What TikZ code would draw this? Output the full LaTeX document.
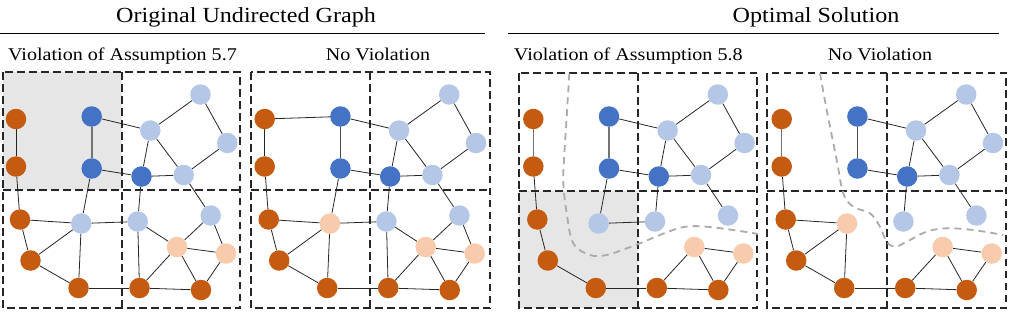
\documentclass[tikz,border=0pt]{standalone}
\usepackage{fontspec}
\setmainfont[FakeStretch=1.12]{Liberation Serif}
\pgfdeclarelayer{back}
\pgfdeclarelayer{bg}
\pgfsetlayers{back,bg,main}
\definecolor{cor}{HTML}{C55A11}
\definecolor{cdb}{HTML}{4472C4}
\definecolor{clb}{HTML}{B4C7E7}
\definecolor{cpe}{HTML}{F8CBAD}
\definecolor{cshade}{HTML}{E6E6E6}
\definecolor{ccurve}{HTML}{ABABAB}
\tikzset{
  gn/.style={circle,minimum size=20.5bp,inner sep=0pt,draw=none},
  ge/.style={draw=black!85,line width=0.8bp},
  gthick/.style={draw=black!55,line width=1.6bp},
  quad/.style={draw=black!85,line width=1.7bp,dash pattern=on 7.5bp off 4.5bp},
  sepcurve/.style={draw=ccurve,line width=1.8bp,dash pattern=on 7bp off 5bp},
  titletext/.style={anchor=base,font=\fontsize{21.6}{24}\selectfont,inner sep=0pt},
  subtext/.style={anchor=base,font=\fontsize{18}{20}\selectfont,inner sep=0pt},
  rule/.style={line width=1.5bp,black}
}
\newcommand\gnodes[2]{%
  \node[gn,fill=cor] (#1o1) at (16,119) {};
  \node[gn,fill=cor] (#1o2) at (16,166.5) {};
  \node[gn,fill=cor] (#1o3) at (20,219.5) {};
  \node[gn,fill=cor] (#1o4) at (30.5,260.5) {};
  \node[gn,fill=cor] (#1o5) at (78.5,288) {};
  \node[gn,fill=cor] (#1o6) at (139.5,288) {};
  \node[gn,fill=cor] (#1o7) at (201,290) {};
  \node[gn,fill=cdb] (#1b1) at (91.7,116.5) {};
  \node[gn,fill=cdb] (#1b2) at (91.7,168.5) {};
  \node[gn,fill=cdb] (#1b3) at (141.5,176.5) {};
  \node[gn,fill=clb] (#1l1) at (200.5,94.5) {};
  \node[gn,fill=clb] (#1l2) at (150.3,130.5) {};
  \node[gn,fill=clb] (#1l3) at (227.3,143) {};
  \node[gn,fill=clb] (#1l4) at (183.7,175) {};
  \node[gn,fill=#2] (#1l5) at (81.3,223.5) {};
  \node[gn,fill=clb] (#1l6) at (137.7,221.5) {};
  \node[gn,fill=clb] (#1l7) at (210.7,215.5) {};
  \node[gn,fill=cpe] (#1p1) at (177,247) {};
  \node[gn,fill=cpe] (#1p2) at (226,253.5) {};
}
\newcommand\quads[5]{% left mid right top midy ; bottom fixed
  \draw[quad] (#1,#4) rectangle (#3,308);
  \draw[quad] (#2,#4) -- (#2,308);
  \draw[quad] (#1,#5) -- (#3,#5);
}
\begin{document}
\begin{tikzpicture}[x=1bp,y=-1bp]
\useasboundingbox (0,0) rectangle (1010,313);
% titles
\node[titletext] (t1) at (246,22.7) {Original Undirected Graph};
\node[titletext] (t2) at (816,22.7) {Optimal Solution};
\draw[rule] (0,33.5) -- (485,33.5);
\draw[rule] (508,33.5) -- (999,33.5);
\node[subtext] (s1) at (122.5,60.7) {Violation of Assumption 5.7};
\node[subtext] (s2) at (378,60.7) {No Violation};
\node[subtext] (s3) at (628.3,60.7) {Violation of Assumption 5.8};
\node[subtext] (s4) at (880,60.7) {No Violation};
% shading
\begin{pgfonlayer}{back}
  \fill[cshade] (3,72) rectangle (122,190);
  \fill[cshade] (519,191) rectangle (638,308);
\end{pgfonlayer}
% nodes
\gnodes{A}{clb}
\begin{scope}[xshift=248.7bp]\gnodes{B}{cpe}\end{scope}
\begin{scope}[xshift=517.3bp]\gnodes{C}{clb}\end{scope}
\begin{scope}[xshift=765.7bp]\gnodes{D}{cpe}\end{scope}
\begin{pgfonlayer}{bg}
  \quads{3}{122}{240}{72}{190}
  \quads{251}{370}{490}{72}{190}
  \quads{519}{638}{757}{73}{191}
  \quads{767}{887}{1006}{73}{191}
  % common edges
  \foreach \P in {A,B,C,D}{
    \foreach \a/\b in {o2/o3,o3/o4,o4/o5,o5/o6,o6/o7,b1/l2,b2/b3,b3/l2,b3/l4,
      l2/l1,l2/l4,l1/l3,l3/l4,l4/l7,b3/l6,p1/p2,p1/o6,p1/o7,p2/o7}
      \draw[ge] (\P\a) -- (\P\b);
  }
  \draw[ge] (Ao1) -- (Ao2);
  \draw[ge] (Bo1) -- (Bo2);
  \draw[gthick,line width=1.2bp] (Co1) -- (Co2);
  \draw[gthick,line width=1.2bp] (Do1) -- (Do2);
  \draw[gthick] (Ab1) -- (Ab2);
  \draw[ge,draw=black!70,line width=1bp] (Bb1) -- (Bb2);
  \draw[gthick] (Cb1) -- (Cb2);
  \draw[ge,draw=black!70,line width=1bp] (Db1) -- (Db2);
  \foreach \P in {A,B}{
    \foreach \a/\b in {o3/l5,l5/o4,l5/o5,l5/l6,l5/b2,l6/o6,l6/p1,l7/p1,l7/p2}
      \draw[ge] (\P\a) -- (\P\b);
  }
  \draw[ge] (Bo1) -- (Bb1);
  \foreach \a/\b in {l5/b2,l5/l6}
    \draw[ge] (C\a) -- (C\b);
  \foreach \a/\b in {o3/l5,l5/o4,l5/o5}
    \draw[ge] (D\a) -- (D\b);
  % separating curves
  \draw[sepcurve] plot[smooth,tension=0.6] coordinates {(569.3,73.3) (566.7,116.7) (564,160) (563.3,183.3) (566.7,213.3) (573.3,243.3) (590,255) (606.7,255) (626.7,248.3) (640,243.3) (668.3,231.7) (687,226.5) (710,227) (743,231.5) (758,234)};
  \draw[sepcurve] plot[smooth,tension=0.6] coordinates {(820,73.3) (826.7,110) (836.7,160) (843.3,193.3) (853.3,206.7) (870,213.3) (880,226.7) (886.7,241.7) (895,246.7) (906.7,241.7) (926.7,231.7) (946.7,228.3) (973.3,230) (1003.3,235)};
\end{pgfonlayer}
\end{tikzpicture}
\end{document}
